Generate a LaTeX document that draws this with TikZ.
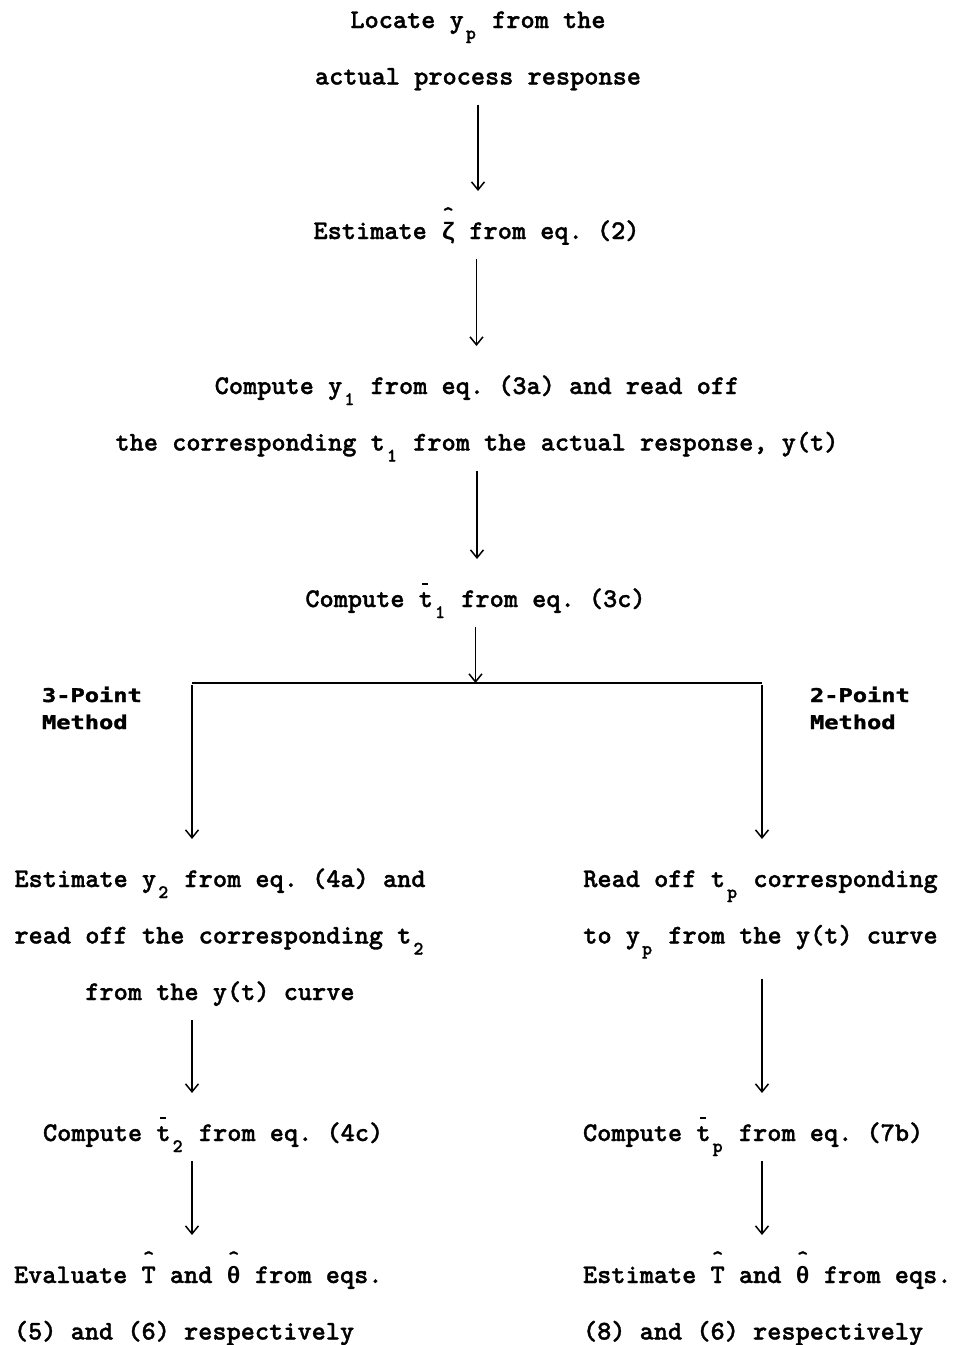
\documentclass[tikz,border=0pt]{standalone}
\usepackage{fontspec}
\usepackage{graphicx}
\usetikzlibrary{arrows.meta}

\newfontfamily\prtfont{lmmonolt10-bold}[Extension=.otf, FakeBold=1.2]
\newfontfamily\grkfont{Liberation Mono}
\newfontfamily\headfont{DejaVu Sans Mono}[FakeBold=1.5]
\newcommand{\lowsub}[1]{\makebox[14.2pt]{\raisebox{-11pt}{\fontsize{19}{19}\selectfont #1}}}
\newcommand{\grk}[1]{\makebox[14.2pt]{\grkfont\bfseries\fontsize{23.7}{23.7}\selectfont #1}}
\newcommand{\hatted}[1]{\ooalign{#1\cr\hidewidth\raisebox{18pt}{\fontsize{22}{22}\selectfont\textasciicircum}\hidewidth\cr}}
\newcommand{\barred}[1]{\ooalign{#1\cr\hidewidth\raisebox{22pt}{\rule{6pt}{1.6pt}}\kern1pt\hidewidth\cr}}
\newcommand{\topstrut}{\rule{0pt}{30pt}}
\newcommand{\botstrut}{\rule[-18pt]{0pt}{18pt}}

\tikzset{
  txt/.style={inner sep=0pt, outer sep=0pt, font=\prtfont\fontsize{27}{56.5}\selectfont\frenchspacing},
  hdr/.style={inner sep=0pt, outer sep=0pt, align=left, font=\headfont\bfseries\fontsize{23.7}{27}\selectfont},
  arr/.style={line width=1.5pt, -{Straight Barb[length=8pt,width=13pt]}, shorten <=2pt, shorten >=18pt},
}

\begin{document}
\begin{tikzpicture}[x=1pt, y=-1pt]
	\path[fill=white, use as bounding box] (0,0) rectangle (953,1345);

	% common trunk
	\node[txt, align=center, anchor=north] (locate) at (478,-2) {\topstrut Locate y\lowsub{p} from the\\actual process response\botstrut};
	\node[txt, anchor=north] (zeta) at (476.5,209) {\topstrut Estimate \hatted{\grk{ζ}} from eq. (2)\botstrut};
	\node[txt, align=center, anchor=north] (ycomp) at (477,364) {\topstrut Compute y\lowsub{1} from eq. (3a) and read off\\the corresponding t\lowsub{1} from the actual response, y(t)\botstrut};
	\node[txt, anchor=north] (tbar1) at (475.5,577) {\topstrut Compute \barred{t}\lowsub{1} from eq. (3c)\botstrut};

	\draw[arr] (locate.south) -- (locate.south |- zeta.north);
	\draw[arr] (zeta.south) -- (zeta.south |- ycomp.north);
	\draw[arr] (ycomp.south) -- (ycomp.south |- tbar1.north);

	% split into the two methods
	\coordinate (lft) at (192,683);
	\coordinate (rgt) at (762,683);
	\draw[line width=1.5pt] (lft) -- (rgt);
	\draw[arr, shorten >=0pt] (tbar1.south) -- (tbar1.south |- lft);
	\node[hdr, anchor=north west] (three) at (42,682) {\rule{0pt}{20pt}\scalebox{1}[0.8]{3-Point}\\\scalebox{1}[0.8]{Method}};
	\node[hdr, anchor=north west] (two) at (810,682) {\rule{0pt}{20pt}\scalebox{1}[0.8]{2-Point}\\\scalebox{1}[0.8]{Method}};

	% 3-point branch
	\node[txt, align=center, anchor=north] (est2) at (220,857) {\topstrut Estimate y\lowsub{2} from eq. (4a) and\\read off the corresponding t\lowsub{2}\\from the y(t) curve\botstrut};
	\node[txt, anchor=north west] (tbar2) at (43,1111) {\topstrut Compute \barred{t}\lowsub{2} from eq. (4c)\botstrut};
	\node[txt, align=left, anchor=north west] (evalT) at (14,1253) {\topstrut Evaluate \hatted{T} and \hatted{\grk{θ}} from eqs.\\(5) and (6) respectively\botstrut};

	\draw[arr] (lft) -- (lft |- est2.north);
	\draw[arr] (lft |- est2.south) -- (lft |- tbar2.north);
	\draw[arr] (lft |- tbar2.south) -- (lft |- evalT.north);

	% 2-point branch
	\node[txt, align=center, anchor=north] (readtp) at (760.5,857) {\topstrut Read off t\lowsub{p} corresponding\\to y\lowsub{p} from the y(t) curve\botstrut};
	\node[txt, anchor=north west] (tbarp) at (583,1111) {\topstrut Compute \barred{t}\lowsub{p} from eq. (7b)\botstrut};
	\node[txt, align=left, anchor=north west] (estT) at (583,1253) {\topstrut Estimate \hatted{T} and \hatted{\grk{θ}} from eqs.\\(8) and (6) respectively\botstrut};

	\draw[arr] (rgt) -- (rgt |- readtp.north);
	\draw[arr, shorten <=17pt] (rgt |- readtp.south) -- (rgt |- tbarp.north);
	\draw[arr] (rgt |- tbarp.south) -- (rgt |- estT.north);
\end{tikzpicture}
\end{document}
